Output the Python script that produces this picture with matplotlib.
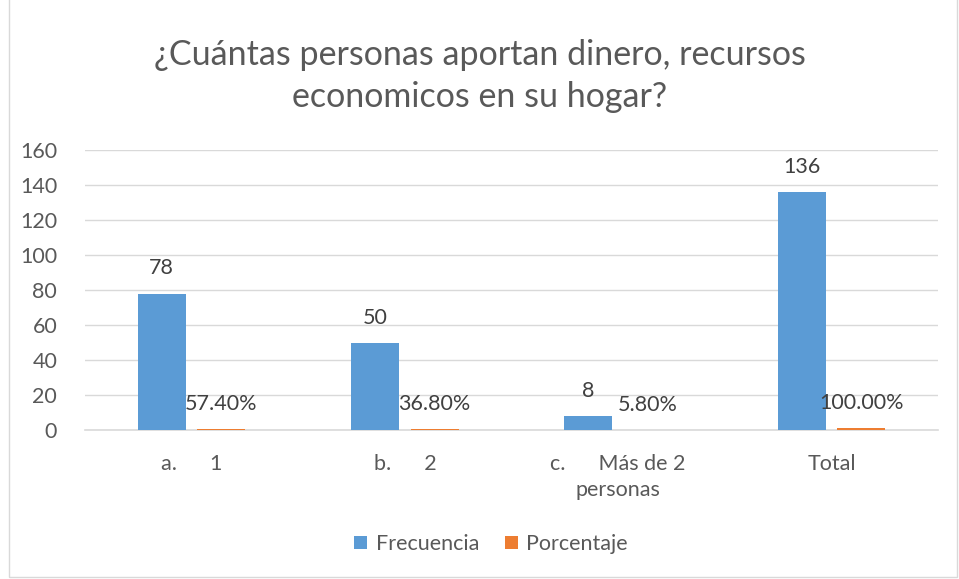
import numpy as np
import matplotlib
matplotlib.use("Agg")
import matplotlib.pyplot as plt
from matplotlib.patches import Rectangle

plt.rcParams['font.family'] = ['Lato', 'DejaVu Sans']

categories = ["a.      1", "b.      2", "c.      Más de 2\npersonas", "Total"]
frecuencia = [78, 50, 8, 136]
porcentaje = [0.574, 0.368, 0.058, 1.0]
porcentaje_labels = ["57.40%", "36.80%", "5.80%", "100.00%"]

title = "¿Cuántas personas aportan dinero, recursos\neconomicos en su hogar?"
text_color = '#595959'
blue = '#5B9BD5'
orange = '#ED7D31'
fs = 15.5

fig = plt.figure(figsize=(9.59, 5.79), dpi=100)
fig.patches.append(Rectangle((9 / 959, 2 / 579), 948 / 959, 640 / 579, transform=fig.transFigure,
                             fill=False, edgecolor='#d9d9d9', linewidth=1))

ax = fig.add_axes([85 / 959, 1 - 430 / 579, 853 / 959, 280 / 579])

x = np.arange(len(categories))
w = 0.225
off = 0.14
b1 = ax.bar(x - off, frecuencia, w, color=blue, label='Frecuencia', zorder=3)
b2 = ax.bar(x + off, porcentaje, w, color=orange, label='Porcentaje', zorder=3)

for rect, v in zip(b1, frecuencia):
    ax.annotate(str(v), (rect.get_x() + rect.get_width() / 2, rect.get_height()),
                xytext=(0, 25), textcoords='offset pixels', ha='center', va='center',
                fontsize=fs, color='#404040')
for rect, lab in zip(b2, porcentaje_labels):
    ax.annotate(lab, (rect.get_x() + rect.get_width() / 2, rect.get_height()),
                xytext=(0, 25), textcoords='offset pixels', ha='center', va='center',
                fontsize=fs, color='#404040')

ax.set_xlim(-0.5, len(categories) - 0.5)
ax.set_ylim(0, 160)
ax.set_yticks(np.arange(0, 161, 20))
ax.set_xticks(x)
ax.set_xticklabels(categories, fontsize=fs, color=text_color, linespacing=1.4)
ax.tick_params(axis='y', length=0, pad=20, labelsize=fs, labelcolor=text_color)
ax.tick_params(axis='x', length=0, pad=17)
ax.grid(axis='y', color='#d9d9d9', linewidth=1, zorder=0)
for s in ['top', 'right', 'left']:
    ax.spines[s].set_visible(False)
ax.spines['bottom'].set_color('#d9d9d9')
ax.spines['bottom'].set_linewidth(1.2)

fig.text(0.5, 1 - 76 / 579, title, ha='center', va='center', fontsize=24.5,
         color=text_color, linespacing=1.42)

fig.legend(handles=[b1, b2], loc='center', bbox_to_anchor=(491 / 959, 1 - 544 / 579), ncol=2,
           frameon=False, fontsize=fs, labelcolor=text_color, handlelength=0.6,
           handleheight=0.6, handletextpad=0.4, columnspacing=1.2)

fig.savefig("out.png", dpi=100)
